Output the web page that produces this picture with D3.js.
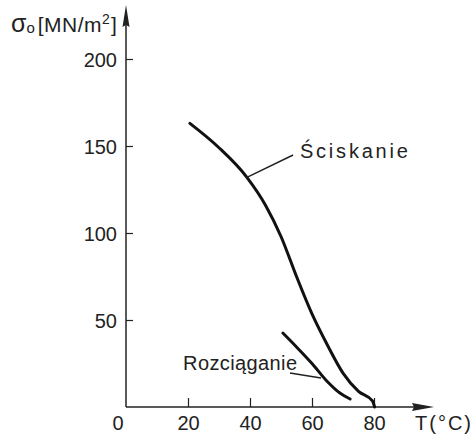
<!DOCTYPE html>
<html>
<head>
<meta charset="utf-8">
<script src="https://cdn.jsdelivr.net/npm/d3@7"></script>
<style>
  body { margin: 0; background: #fff; }
  text { font-family: 'Liberation Sans', Arial, sans-serif; fill: #222; }
</style>
</head>
<body>
<div id="chart"></div>
<script>
// values: T in °C, sigma in MN/m2
let sciskanieT = [20.6, 30, 39, 45, 50, 55, 60, 65, 70, 75, 79.5, 80.2]
let sciskanieS = [163, 149, 132, 116, 98, 75, 53.5, 35.5, 19.5, 9, 3.5, 0]
let rozciaganieT = [50.6, 55, 60, 65, 69, 72.3]
let rozciaganieS = [42.5, 34.5, 25, 14.5, 8, 4.6]
let xTicks = [20, 40, 60, 80]
let yTicks = [50, 100, 150, 200]

let width = 473
let height = 436

let svg = d3
  .select('#chart')
  .append('svg')
  .attr('width', width)
  .attr('height', height)

let xPositionScale = d3.scaleLinear().domain([0, 80]).range([126, 374])
let yPositionScale = d3.scaleLinear().domain([0, 200]).range([407, 59])

let line = d3
  .line()
  .x(d => xPositionScale(d[0]))
  .y(d => yPositionScale(d[1]))
  .curve(d3.curveMonotoneX)

// axes lines with arrow heads
let x0 = xPositionScale(0)
let y0 = yPositionScale(0)
svg.append('line')
  .attr('x1', x0).attr('y1', y0).attr('x2', 428).attr('y2', y0)
  .attr('stroke', '#222').attr('stroke-width', 1.5)
svg.append('path')
  .attr('d', `M434,${y0} L412,${y0 - 4} L414,${y0} L412,${y0 + 4} Z`)
  .attr('fill', '#222')
svg.append('line')
  .attr('x1', x0).attr('y1', y0).attr('x2', x0).attr('y2', 12)
  .attr('stroke', '#222').attr('stroke-width', 1.5)
svg.append('path')
  .attr('d', `M${x0},5 L${x0 - 3.5},27 L${x0},25 L${x0 + 3.5},27 Z`)
  .attr('fill', '#222')

// x axis ticks (pointing up), labels below
let xAxis = d3.axisTop(xPositionScale).tickValues(xTicks).tickSize(9).tickFormat(d3.format('d'))
let xg = svg.append('g').attr('transform', `translate(0,${y0})`).call(xAxis)
xg.select('.domain').remove()
xg.selectAll('line').attr('stroke', '#222').attr('stroke-width', 1.2)
xg.selectAll('text')
  .attr('y', 23).attr('dy', 0)
  .style('font-size', '20px')
  .style('font-family', "'Liberation Sans', Arial, sans-serif")
  .attr('fill', '#222')

svg.append('text')
  .attr('x', x0 - 8).attr('y', y0 + 23)
  .attr('text-anchor', 'middle')
  .style('font-size', '20px')
  .text('0')

// y axis ticks (pointing right), labels on the left
let yAxis = d3.axisRight(yPositionScale).tickValues(yTicks).tickSize(7)
let yg = svg.append('g').attr('transform', `translate(${x0},0)`).call(yAxis)
yg.select('.domain').remove()
yg.selectAll('line').attr('stroke', '#222').attr('stroke-width', 1.2)
yg.selectAll('text')
  .attr('x', -9).attr('dy', '0.36em')
  .attr('text-anchor', 'end')
  .style('font-size', '20px')
  .style('font-family', "'Liberation Sans', Arial, sans-serif")
  .attr('fill', '#222')

// axis titles
let yTitle = svg.append('text').attr('x', 11).attr('y', 32).style('font-size', '21px')
yTitle.append('tspan').style('font-size', '25px').text('σ')
yTitle.append('tspan').style('font-size', '15px').attr('dx', 0).attr('dy', 1).text('o')
yTitle.append('tspan').attr('dx', 3).attr('dy', -1).style('letter-spacing', '0.5px').text('[MN/m')
yTitle.append('tspan').style('font-size', '14px').attr('dy', -8).text('2')
yTitle.append('tspan').attr('dx', 1).attr('dy', 8).text(']')

svg.append('text')
  .attr('x', 415).attr('y', 430)
  .style('font-size', '20px')
  .style('letter-spacing', '2px')
  .text('T(°C)')

// curves
let sciskanie = sciskanieT.map((t, i) => [t, sciskanieS[i]])
let rozciaganie = rozciaganieT.map((t, i) => [t, rozciaganieS[i]])

svg.append('path')
  .datum(sciskanie)
  .attr('d', line)
  .attr('fill', 'none')
  .attr('stroke', '#111')
  .attr('stroke-width', 3)
  .attr('stroke-linecap', 'round')

svg.append('path')
  .datum(rozciaganie)
  .attr('d', line)
  .attr('fill', 'none')
  .attr('stroke', '#111')
  .attr('stroke-width', 3)
  .attr('stroke-linecap', 'round')

// leader lines and labels
svg.append('line')
  .attr('x1', xPositionScale(39)).attr('y1', yPositionScale(132))
  .attr('x2', xPositionScale(53.9)).attr('y2', yPositionScale(144.8))
  .attr('stroke', '#222').attr('stroke-width', 1.5)
svg.append('text')
  .attr('x', xPositionScale(56.1)).attr('y', yPositionScale(143))
  .attr('textLength', 108).attr('lengthAdjust', 'spacing')
  .style('font-size', '20px')
  .text('Ściskanie')

svg.append('line')
  .attr('x1', xPositionScale(52.9)).attr('y1', yPositionScale(19.5))
  .attr('x2', xPositionScale(62.9)).attr('y2', yPositionScale(16.7))
  .attr('stroke', '#222').attr('stroke-width', 1.5)
svg.append('text')
  .attr('x', xPositionScale(18.4)).attr('y', yPositionScale(21.3))
  .attr('textLength', 114).attr('lengthAdjust', 'spacing')
  .style('font-size', '20px')
  .text('Rozciąganie')
</script>
</body>
</html>
